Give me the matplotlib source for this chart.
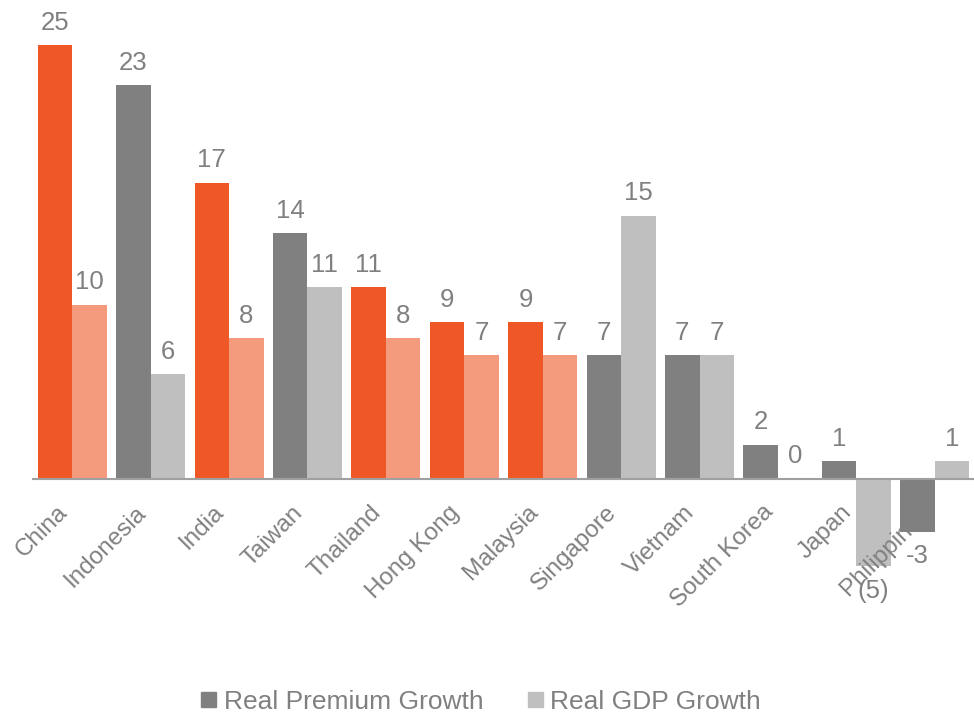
import matplotlib
matplotlib.use("Agg")
import matplotlib.pyplot as plt
import matplotlib.transforms as mtransforms
from matplotlib.patches import Patch
import numpy as np

plt.rcParams["font.family"] = ["Liberation Sans", "DejaVu Sans"]

# --- Data ---
countries = ["China", "Indonesia", "India", "Taiwan", "Thailand", "Hong Kong",
             "Malaysia", "Singapore", "Vietnam", "South Korea", "Japan", "Philippines"]
premium_growth = [24.9, 22.6, 17.0, 14.1, 11.0, 9.0, 9.0, 7.1, 7.1, 1.95, 1.0, -3.05]
gdp_growth = [10.0, 6.0, 8.05, 11.0, 8.05, 7.1, 7.1, 15.1, 7.1, 0.0, -5.05, 1.0]
highlighted = ["China", "India", "Thailand", "Hong Kong", "Malaysia"]

ORANGE = "#EF5826"
SALMON = "#F59B7D"
DARK_GRAY = "#808080"
LIGHT_GRAY = "#BFBFBF"
TEXT_GRAY = "#808080"


def fmt_premium(v):
    return f"{v:.0f}"


def fmt_gdp(v):
    return f"({abs(v):.0f})" if round(v) < 0 else f"{v:.0f}"


fig = plt.figure(figsize=(9.74, 7.14), dpi=100)
ax = fig.add_axes([33 / 974, 1 - 617.7 / 714, 1 - 33 / 974, 617.7 / 714])

x = np.arange(len(countries))
width = 0.44

for i, name in enumerate(countries):
    hi = name in highlighted
    c1 = ORANGE if hi else DARK_GRAY
    c2 = SALMON if hi else LIGHT_GRAY
    p = premium_growth[i]
    g = gdp_growth[i]
    # bars below zero sit above the tick labels (label of Philippines gets cut)
    ax.bar(x[i] - width / 2, p, width, color=c1, zorder=2 if p < 0 else 1)
    ax.bar(x[i] + width / 2, g, width, color=c2, zorder=1)

    for xv, v, txt in [(x[i] - width / 2, p, fmt_premium(p)),
                       (x[i] + width / 2, g, fmt_gdp(g))]:
        if v >= 0:
            ax.annotate(txt, (xv, v), xytext=(0, 11), textcoords="offset points",
                        ha="center", va="baseline", fontsize=18.5, color=TEXT_GRAY)
        else:
            ax.annotate(txt, (xv, v), xytext=(0, -9), textcoords="offset points",
                        ha="center", va="top", fontsize=18.5, color=TEXT_GRAY)

ax.set_xlim(-0.5, len(countries) - 0.5)
ax.set_ylim(-8, 27.5)

for s in ["top", "right", "left"]:
    ax.spines[s].set_visible(False)
ax.spines["bottom"].set_position(("data", 0))
ax.spines["bottom"].set_color("#A0A0A0")
ax.spines["bottom"].set_linewidth(1.5)
ax.set_yticks([])

ax.set_xticks(x)
ax.set_xticklabels(countries, rotation=45, ha="right", va="center",
                   rotation_mode="anchor", fontsize=17.5, color=TEXT_GRAY)
ax.tick_params(axis="x", length=0, pad=22)
shift = mtransforms.ScaledTranslation(-8 / 100, 0, fig.dpi_scale_trans)
for lbl in ax.get_xticklabels():
    lbl.set_transform(lbl.get_transform() + shift)

handles = [Patch(color=DARK_GRAY, label="Real Premium Growth"),
           Patch(color=LIGHT_GRAY, label="Real GDP Growth")]
leg = fig.legend(handles=handles, loc="lower center", bbox_to_anchor=(0.494, -0.033),
                 ncol=2, frameon=False, fontsize=19, handlelength=0.55,
                 handleheight=0.55, handletextpad=0.3, columnspacing=1.7)
for t in leg.get_texts():
    t.set_color(TEXT_GRAY)

fig.savefig("out.png", dpi=100)
